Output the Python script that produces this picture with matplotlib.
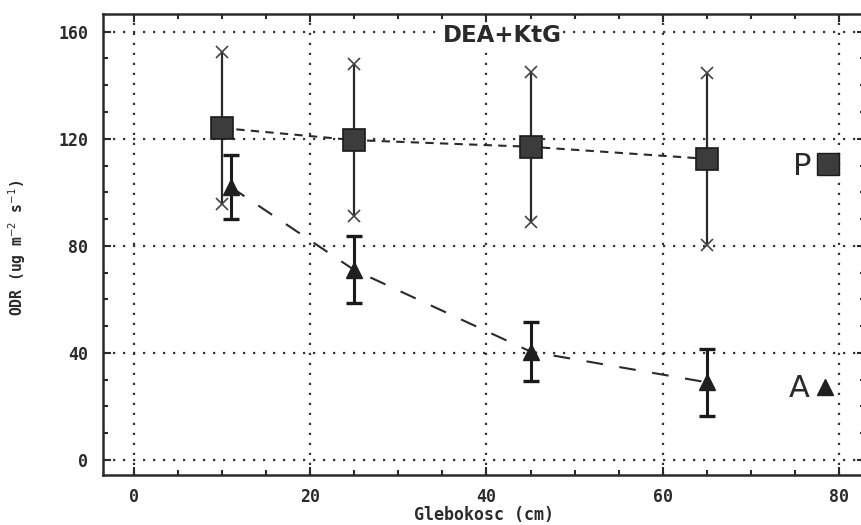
import matplotlib
matplotlib.use("Agg")
import numpy as np
import matplotlib.pyplot as plt
from matplotlib.lines import Line2D
from matplotlib.ticker import MultipleLocator

# depth (cm) and ODR values
p_depth = np.array([10, 25, 45, 65])
p_odr = np.array([124.0, 119.5, 117.0, 112.5])
p_err = np.array([28.5, 28.5, 28.0, 32.0])

a_depth = np.array([11, 25, 45, 65])
a_odr = np.array([102.0, 71.0, 40.5, 29.0])
a_err = np.array([12.0, 12.5, 11.0, 12.5])

x_ticks = [0, 20, 40, 60, 80]
y_ticks = [0, 40, 80, 120, 160]

ink = '#2a2a2a'
mono = 'DejaVu Sans Mono'

fig = plt.figure(figsize=(8.61, 5.25), dpi=100)
ax = fig.add_axes([103 / 861, 50 / 525, 762 / 861, 461 / 525])

ax.set_xlim(-3.46, 82.9)
ax.set_ylim(-5.6, 166.6)
ax.set_xticks(x_ticks)
ax.set_yticks(y_ticks)
ax.xaxis.set_minor_locator(MultipleLocator(5))
ax.yaxis.set_minor_locator(MultipleLocator(10))
ax.tick_params(which='both', direction='in', top=True, right=True,
               width=1.5, color=ink)
ax.tick_params(which='major', length=6)
ax.tick_params(which='minor', length=3.5)
ax.tick_params(axis='x', pad=9)
ax.tick_params(axis='y', pad=10.5)
for lab in ax.get_xticklabels() + ax.get_yticklabels():
    lab.set_fontfamily(mono)
    lab.set_fontweight('bold')
    lab.set_fontsize(12)
    lab.set_color(ink)
for sp in ax.spines.values():
    sp.set_linewidth(1.8)
    sp.set_color(ink)

ax.grid(True, which='major', linestyle=(0, (1, 3.5)), linewidth=1.6, color='#333333')
ax.set_axisbelow(True)

# P series: dashed line, squares, bars with x caps
ax.errorbar(p_depth, p_odr, yerr=p_err, fmt='none', ecolor=ink,
            elinewidth=1.6, capsize=0, zorder=3)
ax.plot(p_depth, p_odr + p_err, ls='none', marker='x', ms=8, mew=1.2, color='#444444', zorder=3)
ax.plot(p_depth, p_odr - p_err, ls='none', marker='x', ms=8, mew=1.2, color='#444444', zorder=3)
ax.plot(p_depth, p_odr, ls=(0, (4, 3)), lw=1.5, color=ink, marker='s', ms=16,
        mfc='#3c3c3c', mec='#1a1a1a', mew=1.2, zorder=4)

# A series: dashed line, triangles, T-capped bars
ax.errorbar(a_depth, a_odr, yerr=a_err, fmt='none', ecolor='#1a1a1a',
            elinewidth=2.2, capsize=6, capthick=2.4, zorder=3)
ax.plot(a_depth, a_odr, ls=(0, (8, 8)), lw=1.5, color=ink, marker='^', ms=12,
        mfc='#1f1f1f', mec='#1f1f1f', zorder=4)

ax.text(0.524, 0.953, 'DEA+KtG', transform=ax.transAxes, ha='center', va='center',
        fontsize=16.5, fontweight='bold', color=ink,
        bbox=dict(facecolor='white', edgecolor='none', pad=1))

p_handle = Line2D([], [], ls='none', marker='s', ms=16, mfc='#3c3c3c', mec='#1a1a1a')
a_handle = Line2D([], [], ls='none', marker='^', ms=12, mfc='#1f1f1f', mec='#1f1f1f')
leg_p = ax.legend([p_handle], ['P'], loc='center', bbox_to_anchor=(0.937, 0.670),
                  frameon=False, markerfirst=False, fontsize=22, handlelength=0.8,
                  handletextpad=0.15, borderpad=0, borderaxespad=0)
for t in leg_p.get_texts():
    t.set_color(ink)
ax.add_artist(leg_p)
leg_a = ax.legend([a_handle], ['A'], loc='center', bbox_to_anchor=(0.932, 0.187),
                  frameon=False, markerfirst=False, fontsize=22, handlelength=0.8,
                  handletextpad=0.1, borderpad=0, borderaxespad=0)
for t in leg_a.get_texts():
    t.set_color(ink)

ax.set_xlabel('Glebokosc (cm)', fontfamily=mono, fontweight='bold', fontsize=12, color=ink)
ax.xaxis.set_label_coords(0.5, -0.068)
ax.set_ylabel('ODR (ug m$^{-2}$ s$^{-1}$)', fontfamily=mono, fontweight='bold',
              fontsize=10.5, color=ink)
ax.yaxis.set_label_coords(-0.098, 0.492)

fig.savefig('out.png', dpi=100)
